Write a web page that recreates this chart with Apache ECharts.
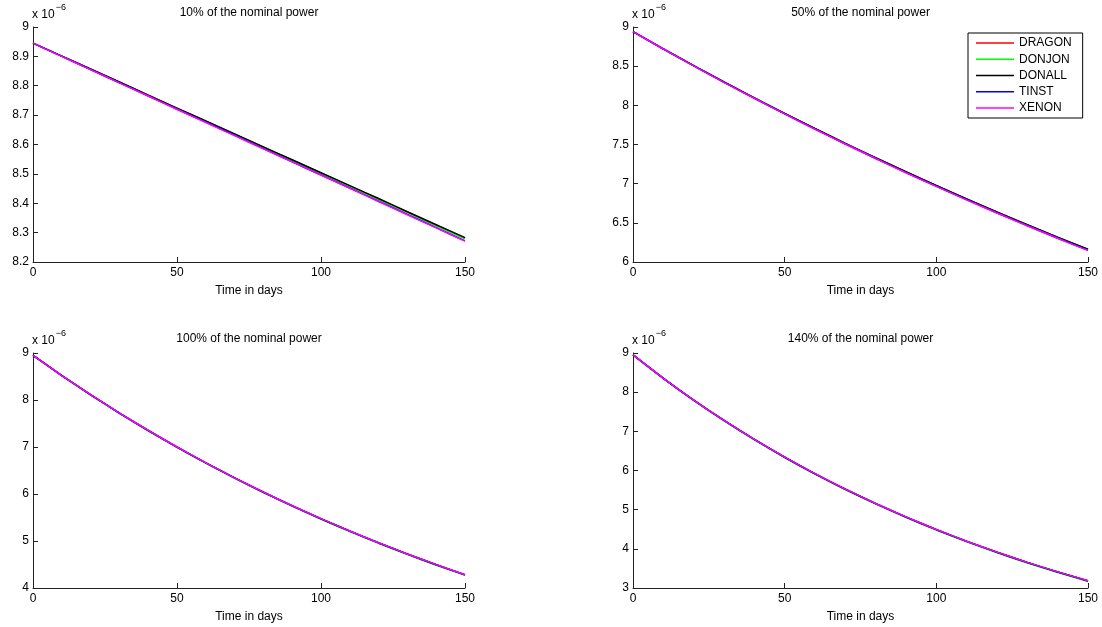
<!DOCTYPE html>
<html>
<head>
<meta charset="utf-8">
<script src="https://cdn.jsdelivr.net/npm/echarts@6/dist/echarts.min.js"></script>
<style>
  html, body { margin: 0; padding: 0; background: #fff; }
  #main { width: 1102px; height: 627px; }
</style>
</head>
<body>
<div id="main"></div>
<script>
// time axis (days)
var days = [0, 10, 20, 30, 40, 50, 60, 70, 80, 90, 100, 110, 120, 130, 140, 150];
var codes = ['DRAGON', 'DONJON', 'DONALL', 'TINST', 'XENON'];
var colors = ['#ff0000', '#00ff00', '#000000', '#0000ff', '#ff00ff'];

// concentration (x 1e-6), one row per code, same order as codes
var p10 = [
  [8.945, 8.901, 8.856, 8.812, 8.768, 8.723, 8.679, 8.635, 8.591, 8.547, 8.502, 8.458, 8.414, 8.370, 8.325, 8.281],
  [8.945, 8.901, 8.856, 8.812, 8.767, 8.723, 8.678, 8.634, 8.590, 8.545, 8.501, 8.457, 8.412, 8.368, 8.323, 8.279],
  [8.945, 8.901, 8.857, 8.813, 8.768, 8.724, 8.680, 8.636, 8.592, 8.548, 8.504, 8.460, 8.416, 8.371, 8.327, 8.283],
  [8.945, 8.900, 8.855, 8.810, 8.765, 8.720, 8.676, 8.631, 8.586, 8.541, 8.496, 8.452, 8.407, 8.362, 8.317, 8.272],
  [8.945, 8.900, 8.855, 8.810, 8.765, 8.720, 8.675, 8.630, 8.585, 8.541, 8.496, 8.451, 8.406, 8.361, 8.316, 8.271]
];
var p50 = [
  [8.940, 8.721, 8.507, 8.298, 8.095, 7.896, 7.703, 7.514, 7.330, 7.150, 6.975, 6.804, 6.637, 6.474, 6.315, 6.161],
  [8.940, 8.720, 8.506, 8.297, 8.094, 7.895, 7.701, 7.512, 7.328, 7.148, 6.973, 6.802, 6.635, 6.472, 6.313, 6.158],
  [8.940, 8.721, 8.508, 8.299, 8.096, 7.897, 7.704, 7.515, 7.331, 7.152, 6.977, 6.806, 6.639, 6.476, 6.317, 6.163],
  [8.940, 8.719, 8.504, 8.294, 8.090, 7.890, 7.696, 7.506, 7.321, 7.141, 6.965, 6.794, 6.626, 6.463, 6.304, 6.149],
  [8.940, 8.719, 8.504, 8.294, 8.090, 7.890, 7.695, 7.506, 7.321, 7.140, 6.965, 6.793, 6.626, 6.463, 6.303, 6.148]
];
var p100 = [
  [8.950, 8.520, 8.111, 7.722, 7.351, 6.998, 6.662, 6.342, 6.038, 5.748, 5.472, 5.209, 4.959, 4.721, 4.494, 4.279],
  [8.950, 8.518, 8.108, 7.718, 7.346, 6.992, 6.656, 6.335, 6.030, 5.740, 5.463, 5.200, 4.950, 4.711, 4.484, 4.268],
  [8.950, 8.520, 8.111, 7.722, 7.351, 6.998, 6.662, 6.342, 6.038, 5.748, 5.472, 5.209, 4.959, 4.721, 4.494, 4.279],
  [8.950, 8.521, 8.112, 7.723, 7.353, 7.000, 6.664, 6.344, 6.040, 5.751, 5.475, 5.212, 4.962, 4.724, 4.498, 4.282],
  [8.950, 8.521, 8.112, 7.723, 7.353, 7.000, 6.664, 6.344, 6.040, 5.751, 5.475, 5.212, 4.962, 4.724, 4.498, 4.282]
];
var p140 = [
  [8.950, 8.353, 7.796, 7.277, 6.792, 6.339, 5.916, 5.522, 5.154, 4.810, 4.489, 4.190, 3.911, 3.650, 3.407, 3.180],
  [8.950, 8.350, 7.791, 7.270, 6.784, 6.330, 5.906, 5.511, 5.142, 4.798, 4.477, 4.177, 3.898, 3.637, 3.394, 3.167],
  [8.950, 8.353, 7.796, 7.277, 6.792, 6.339, 5.916, 5.522, 5.154, 4.810, 4.489, 4.190, 3.911, 3.650, 3.407, 3.180],
  [8.950, 8.354, 7.798, 7.279, 6.795, 6.342, 5.920, 5.526, 5.158, 4.815, 4.494, 4.195, 3.916, 3.655, 3.412, 3.185],
  [8.950, 8.354, 7.798, 7.279, 6.795, 6.342, 5.920, 5.526, 5.158, 4.815, 4.494, 4.195, 3.916, 3.655, 3.412, 3.185]
];

var panels = [
  { title: '10% of the nominal power', data: p10, min: 8.2, max: 9, step: 0.1 },
  { title: '50% of the nominal power', data: p50, min: 6, max: 9, step: 0.5 },
  { title: '100% of the nominal power', data: p100, min: 4, max: 9, step: 1 },
  { title: '140% of the nominal power', data: p140, min: 3, max: 9, step: 1 }
];
var boxes = [
  { left: 33, top: 27, width: 432, height: 235 },
  { left: 633, top: 27, width: 455, height: 235 },
  { left: 33, top: 353, width: 432, height: 235 },
  { left: 633, top: 353, width: 455, height: 235 }
];

var font = '"Liberation Sans", Arial, Helvetica, sans-serif';
var axisColor = '#222';

var myChart = echarts.init(document.getElementById('main'));

var titles = [], grids = [], xAxes = [], yAxes = [], series = [];
panels.forEach(function (p, i) {
  var b = boxes[i];
  titles.push({
    text: p.title,
    left: b.left + b.width / 2,
    top: b.top - 20,
    textAlign: 'center',
    padding: 0,
    textStyle: { fontSize: 12, fontWeight: 'normal', color: '#000', fontFamily: font }
  });
  grids.push({ left: b.left, top: b.top, width: b.width, height: b.height });
  xAxes.push({
    type: 'value', gridIndex: i, min: 0, max: 150, interval: 50,
    name: 'Time in days', nameLocation: 'middle', nameGap: 23,
    nameTextStyle: { fontSize: 12, color: '#000', fontFamily: font },
    axisLine: { lineStyle: { color: axisColor, width: 1 } },
    axisTick: { inside: true, length: 5, lineStyle: { color: axisColor } },
    axisLabel: { fontSize: 12, color: '#000', fontFamily: font, margin: 5 },
    splitLine: { show: false }
  });
  yAxes.push({
    type: 'value', gridIndex: i, min: p.min, max: p.max, interval: p.step,
    name: '{a|x 10}{b|\u22126}', nameLocation: 'end', nameGap: 5,
    nameTextStyle: {
      align: 'left', fontFamily: font, color: '#000', padding: [0, 0, 0, -1],
      rich: {
        a: { fontSize: 12, fontFamily: font, color: '#000', verticalAlign: 'bottom', lineHeight: 18 },
        b: { fontSize: 9, fontFamily: font, color: '#000', verticalAlign: 'top', lineHeight: 18, padding: [0, 0, 0, 1] }
      }
    },
    axisLine: { show: true, lineStyle: { color: axisColor, width: 1 } },
    axisTick: { show: true, inside: true, length: 5, lineStyle: { color: axisColor } },
    axisLabel: { fontSize: 12, color: '#000', fontFamily: font, margin: 4 },
    splitLine: { show: false }
  });
  codes.forEach(function (c, k) {
    series.push({
      name: c,
      type: 'line',
      xAxisIndex: i,
      yAxisIndex: i,
      data: days.map(function (d, j) { return [d, p.data[k][j]]; }),
      showSymbol: false,
      symbol: 'none',
      smooth: 0.2,
      lineStyle: { color: colors[k], width: 1.5 },
      itemStyle: { color: colors[k] },
      animation: false
    });
  });
});

myChart.setOption({
  animation: false,
  title: titles,
  legend: {
    data: codes,
    orient: 'vertical',
    left: 968,
    top: 33,
    icon: 'rect',
    itemWidth: 38,
    itemHeight: 1.5,
    itemGap: 2.25,
    padding: [3, 11, 3, 8],
    borderColor: '#000',
    borderWidth: 1,
    backgroundColor: '#fff',
    selectedMode: false,
    textStyle: { fontSize: 12, color: '#000', fontFamily: font, lineHeight: 14 }
  },
  grid: grids,
  xAxis: xAxes,
  yAxis: yAxes,
  series: series
});
</script>
</body>
</html>
